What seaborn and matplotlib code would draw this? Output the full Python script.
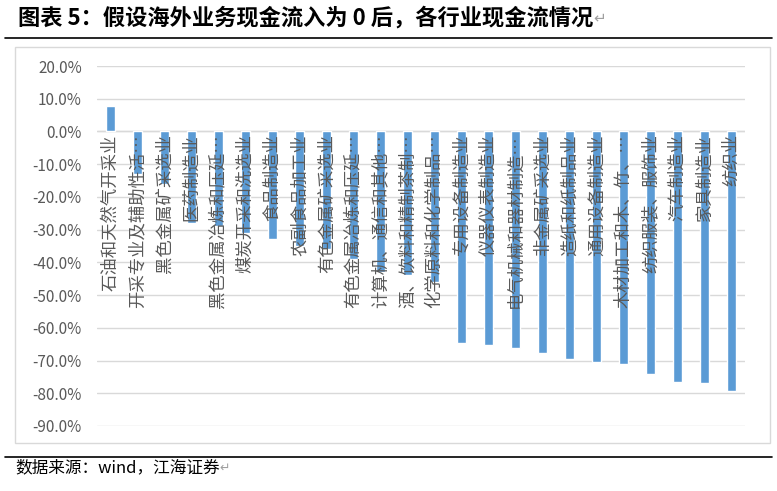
import matplotlib
matplotlib.use('Agg')
import matplotlib.pyplot as plt
import seaborn as sns
import pandas as pd
from matplotlib.ticker import FuncFormatter, MultipleLocator
from matplotlib.patches import Rectangle
from matplotlib.lines import Line2D

# --- Data ---
industries = [
    '石油和天然气开采业', '开采专业及辅助性活…', '黑色金属矿采选业', '医药制造业',
    '黑色金属冶炼和压延…', '煤炭开采和洗选业', '食品制造业', '农副食品加工业',
    '有色金属矿采选业', '有色金属冶炼和压延…', '计算机、通信和其他…', '酒、饮料和精制茶制…',
    '化学原料和化学制品…', '专用设备制造业', '仪器仪表制造业', '电气机械和器材制造…',
    '非金属矿采选业', '造纸和纸制品业', '通用设备制造业', '木材加工和木、竹、…',
    '纺织服装、服饰业', '汽车制造业', '家具制造业', '纺织业',
]
cash_flow = [
    7.7, -13.0, -16.0, -28.0,
    -29.0, -31.0, -33.0, -35.0,
    -36.0, -39.0, -43.0, -44.0,
    -46.0, -64.6, -65.2, -66.2,
    -67.7, -69.5, -70.5, -71.1,
    -74.2, -76.6, -76.9, -79.4,
]

title = '图表 5：假设海外业务现金流入为 0 后，各行业现金流情况'
source = '数据来源：wind，江海证券'

# --- Style ---
sns.set_theme(style='white')
plt.rcParams['font.family'] = ['Noto Sans CJK SC', 'DejaVu Sans']
plt.rcParams['axes.unicode_minus'] = False

W, H = 777, 491
fig = plt.figure(figsize=(W / 100, H / 100), dpi=100)
fig.patch.set_facecolor('white')


def fx(px):
    return px / W


def fy(py):
    return 1 - py / H


# chart frame
fig.patches.append(Rectangle((fx(15), fy(443)), fx(770) - fx(15), fy(47) - fy(443),
                             transform=fig.transFigure, fill=False,
                             edgecolor='#D9D9D9', lw=1))

# --- Bars ---
ax = fig.add_axes([fx(97), fy(426), fx(745) - fx(97), fy(66) - fy(426)])
df = pd.DataFrame({'industry': industries, 'value': cash_flow})
sns.barplot(data=df, x='industry', y='value', color='#5B9BD5', width=0.36,
            saturation=1, ax=ax)

ax.set_xlim(-0.5, len(industries) - 0.5)
ax.set_ylim(-90, 20)
ax.yaxis.set_major_locator(MultipleLocator(10))
ax.yaxis.set_major_formatter(FuncFormatter(lambda v, p: f'{v:.1f}%'))
ax.grid(axis='y', color='#D9D9D9', lw=1)
ax.set_axisbelow(True)
for sp in ['top', 'right', 'left', 'bottom']:
    ax.spines[sp].set_visible(False)
ax.axhline(0, color='#D9D9D9', lw=1, zorder=0.6)
ax.tick_params(axis='x', length=0, labelbottom=False)
ax.tick_params(axis='y', length=0, pad=11, labelsize=11, labelcolor='#595959')
ax.set_xlabel('')
ax.set_ylabel('')

# category labels sit just under the zero line, drawn over the bars
for i, name in enumerate(industries):
    ax.annotate(name, xy=(i, 0), xytext=(0, -2), textcoords='offset points',
                rotation=90, ha='center', va='top', fontsize=12.5,
                color='#595959', zorder=5, annotation_clip=False)

# --- Title, rules and source ---
t = fig.text(fx(18), fy(18), title, fontsize=16, fontweight='bold', va='center',
             color='black')
fig.add_artist(Line2D([fx(5), fx(772)], [fy(38), fy(38)], color='black', lw=1.2))
fig.add_artist(Line2D([fx(5), fx(772)], [fy(457), fy(457)], color='black', lw=1.2))
s = fig.text(fx(15), fy(468), source, fontsize=12, va='center', color='black')
ax.annotate('↵', xy=(1, 0.5), xycoords=t, va='center', ha='left',
            fontsize=11, color='#A0A0A0', annotation_clip=False)
ax.annotate('↵', xy=(1, 0.5), xycoords=s, va='center', ha='left',
            fontsize=9, color='#A0A0A0', annotation_clip=False)

fig.savefig('out.png', dpi=100)
